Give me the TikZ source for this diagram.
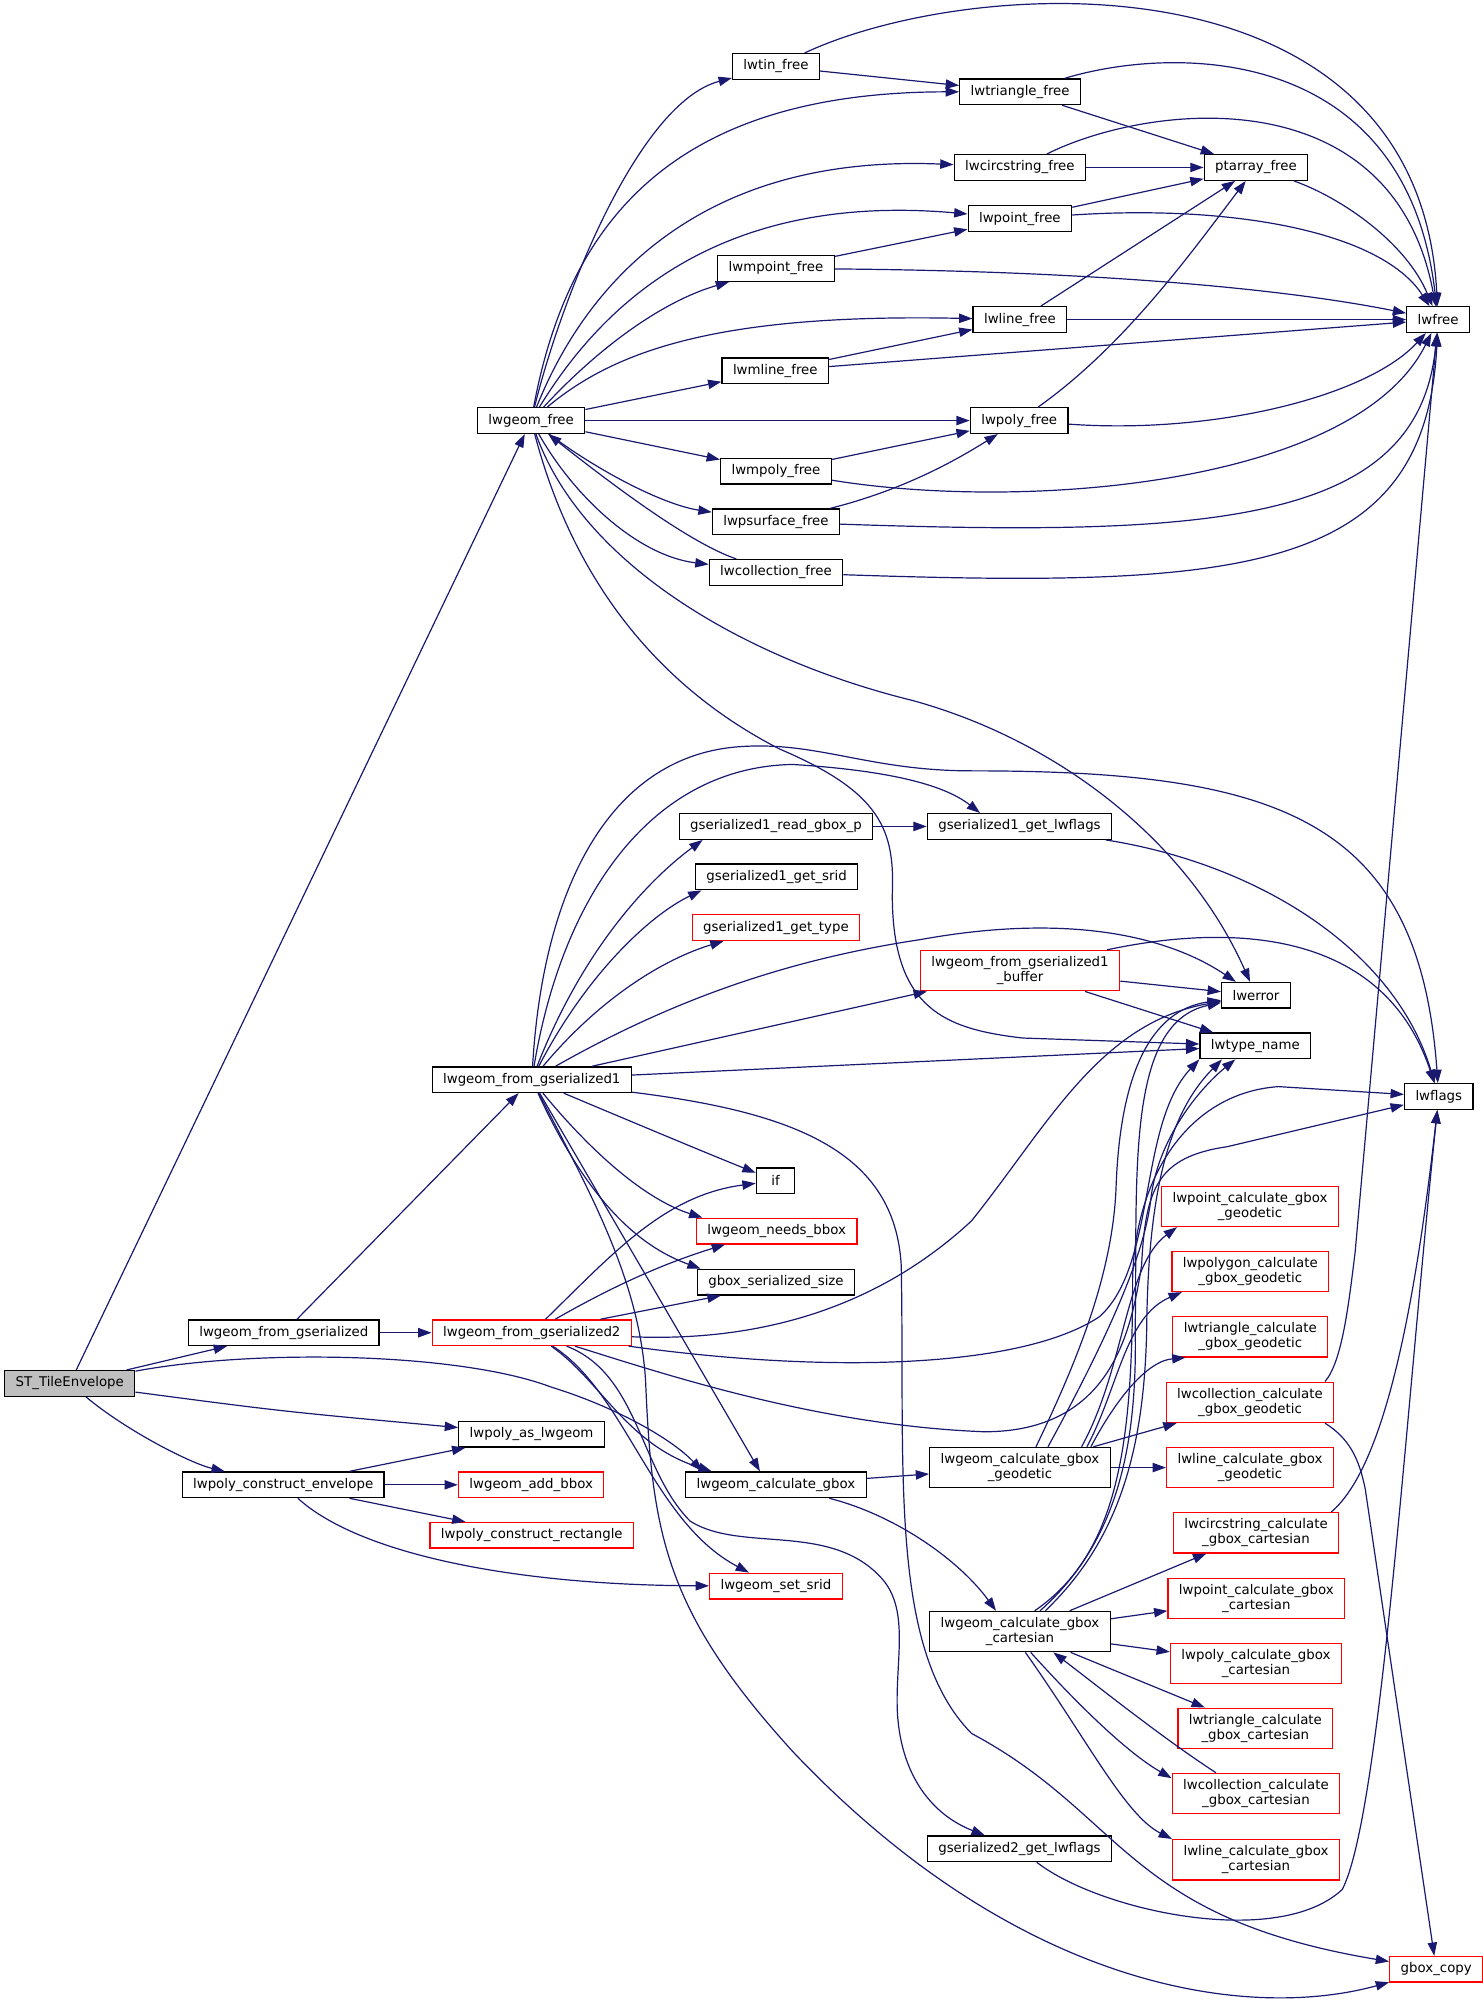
\documentclass[tikz,border=0pt]{standalone}
\usepackage{fontspec}
\setmainfont{DejaVu Sans}
\usetikzlibrary{arrows.meta}
\definecolor{edgeblue}{HTML}{191970}
\definecolor{rootgray}{HTML}{BFBFBF}
\begin{document}
\begin{tikzpicture}[x=0.9588pt,y=-0.9588pt,
    fn/.style={draw=black,line width=1pt,fill=white,font=\fontsize{10}{11}\selectfont,
      align=center,inner xsep=8.2pt,inner ysep=2pt,minimum height=19.2pt},
    hot/.style={fn,draw=red},
    two/.style={minimum height=30.2pt},
    root/.style={fn,fill=rootgray},
    call/.style={color=edgeblue,line width=0.9pt,-{Triangle[length=10pt,width=7pt]}}]
  \useasboundingbox (0,0) rectangle (1160,1565.3);
  \draw
    (54.6,1082.2) node[root] (st) {ST\_TileEnvelope}
    (222,1042.5) node[fn] (lfgs) {lwgeom\_from\_gserialized}
    (221.5,1161.5) node[fn] (lpce) {lwpoly\_construct\_envelope}
    (415.5,329) node[fn] (lgf) {lwgeom\_free}
    (416,844.6) node[fn] (gs1) {lwgeom\_from\_gserialized1}
    (416,1042.5) node[hot] (gs2) {lwgeom\_from\_gserialized2}
    (415.8,1122) node[fn] (lpal) {lwpoly\_as\_lwgeom}
    (415.5,1161.5) node[hot] (lgab) {lwgeom\_add\_bbox}
    (416,1201) node[hot] (lpcr) {lwpoly\_construct\_rectangle}
    (607,52) node[fn] (ltinf) {lwtin\_free}
    (607,210) node[fn] (lmptf) {lwmpoint\_free}
    (606.5,290) node[fn] (lmlf) {lwmline\_free}
    (607,368.5) node[fn] (lmpf) {lwmpoly\_free}
    (607,408.3) node[fn] (lpsf) {lwpsurface\_free}
    (607,447.8) node[fn] (lcf) {lwcollection\_free}
    (607,646.5) node[fn] (g1rgp) {gserialized1\_read\_gbox\_p}
    (607.5,686) node[fn] (g1gs) {gserialized1\_get\_srid}
    (607,725.6) node[hot] (g1gt) {gserialized1\_get\_type}
    (606.7,923.6) node[fn,minimum width=28.8pt] (ifn) {if}
    (607.5,963) node[hot] (lgnb) {lwgeom\_needs\_bbox}
    (607,1003) node[fn] (gss) {gbox\_serialized\_size}
    (607,1161.5) node[fn] (lgcg) {lwgeom\_calculate\_gbox}
    (607,1240.7) node[hot] (lgss) {lwgeom\_set\_srid}
    (798,71.8) node[fn] (ltrif) {lwtriangle\_free}
    (797.8,131) node[fn] (lcsf) {lwcircstring\_free}
    (797.8,171) node[fn] (lptf) {lwpoint\_free}
    (797.8,250) node[fn] (llf) {lwline\_free}
    (797.3,329) node[fn] (lpf) {lwpoly\_free}
    (797.5,646.5) node[fn] (g1glf) {gserialized1\_get\_lwflags}
    (797.9,759.3) node[hot,two] (buf) {lwgeom\_from\_gserialized1\\\_buffer}
    (797.9,1148) node[fn,two] (geod) {lwgeom\_calculate\_gbox\\\_geodetic}
    (797.9,1276.3) node[fn,two] (cart) {lwgeom\_calculate\_gbox\\\_cartesian}
    (797.5,1446.2) node[fn] (g2glf) {gserialized2\_get\_lwflags}
    (982.5,131) node[fn] (ptaf) {ptarray\_free}
    (982.5,778.6) node[fn] (lwerr) {lwerror}
    (982,818.2) node[fn] (ltn) {lwtype\_name}
    (977.8,943.7) node[hot,two] (pgeo) {lwpoint\_calculate\_gbox\\\_geodetic}
    (978,994.5) node[hot,two] (pgon) {lwpolygon\_calculate\\\_gbox\_geodetic}
    (978,1045.7) node[hot,two] (tgeo) {lwtriangle\_calculate\\\_gbox\_geodetic}
    (977.8,1097) node[hot,two] (cgeo) {lwcollection\_calculate\\\_gbox\_geodetic}
    (977.8,1148) node[hot,two] (lgeo) {lwline\_calculate\_gbox\\\_geodetic}
    (982.5,1199) node[hot,two] (ccart) {lwcircstring\_calculate\\\_gbox\_cartesian}
    (982.8,1250.3) node[hot,two] (pcart) {lwpoint\_calculate\_gbox\\\_cartesian}
    (982.5,1301.3) node[hot,two] (pycart) {lwpoly\_calculate\_gbox\\\_cartesian}
    (982,1352) node[hot,two] (tcart) {lwtriangle\_calculate\\\_gbox\_cartesian}
    (982.5,1403) node[hot,two] (ccoll) {lwcollection\_calculate\\\_gbox\_cartesian}
    (982.5,1454.8) node[hot,two] (lcart) {lwline\_calculate\_gbox\\\_cartesian}
    (1125,250) node[fn] (lwfree) {lwfree}
    (1125.5,857.8) node[fn] (lwflg) {lwflags}
    (1123.5,1540.5) node[hot] (gbcp) {gbox\_copy};
  \begin{scope}[call]
    \draw (st) -- (lgf);
    \draw (st) -- (lfgs);
    \draw (st) .. controls (200,1055) and (360,1058) .. (431,1085) .. controls (480,1100) and (525,1125) .. ([xshift=13]lgcg.north west);
    \draw (st) .. controls (220,1104) .. (lpal);
    \draw (st) .. controls (100,1120) and (150,1145) .. (lpce);
    \draw (lfgs) -- (gs1);
    \draw (lfgs) -- (gs2);
    \draw (lpce) -- (lpal);
    \draw (lpce) -- (lgab);
    \draw (lpce) -- (lpcr);
    \draw (lpce) .. controls (280,1215) and (400,1240) .. (lgss);
    \draw (lgf) .. controls (440,230) and (500,80) .. (ltinf);
    \draw (lgf) .. controls (445,170) and (530,72) .. (ltrif);
    \draw (lgf) .. controls (455,230) and (540,120) .. (lcsf);
    \draw (lgf) .. controls (470,240) and (560,150) .. (lptf);
    \draw (lgf) .. controls (470,270) and (520,235) .. (lmptf);
    \draw (lgf) .. controls (480,275) and (560,245) .. (llf);
    \draw (lgf) -- (lmlf);
    \draw (lgf) -- (lpf);
    \draw (lgf) -- (lmpf);
    \draw (lgf) .. controls (470,370) and (520,395) .. (lpsf);
    \draw (lgf) .. controls (450,390) and (500,435) .. (lcf);
    \draw (lcf) .. controls (540,425) and (480,380) .. (lgf);
    \draw (lgf) .. controls (455,440) and (580,515) .. (714,548) .. controls (830,580) and (930,660) .. (lwerr);
    \draw (lgf) .. controls (450,460) and (520,540) .. (610,586) .. controls (690,620) and (700,650) .. (698,700) .. controls (698,790) and (740,805) .. (800,812) -- (ltn);
    \draw (ltinf) -- (ltrif);
    \draw (ltinf) .. controls (760,-20) and (1110,-40) .. (lwfree);
    \draw (ltrif) .. controls (920,35) and (1100,35) .. (lwfree);
    \draw (ltrif) -- (ptaf);
    \draw (lcsf) -- (ptaf);
    \draw (lcsf) .. controls (900,80) and (1090,60) .. (lwfree);
    \draw (lptf) -- (ptaf);
    \draw (lptf) .. controls (960,160) and (1080,180) .. (lwfree);
    \draw (lmptf) -- (lptf);
    \draw (lmptf) .. controls (850,212) and (1000,225) .. (lwfree);
    \draw (llf) -- (ptaf);
    \draw (llf) -- (lwfree);
    \draw (lmlf) -- (llf);
    \draw (lmlf) -- (lwfree);
    \draw (lpf) .. controls (880,270) and (930,200) .. (ptaf);
    \draw (lpf) .. controls (950,340) and (1070,310) .. (lwfree);
    \draw (lmpf) -- (lpf);
    \draw (lmpf) .. controls (800,400) and (1060,380) .. (lwfree);
    \draw (lpsf) .. controls (700,385) and (740,365) .. (lpf);
    \draw (lpsf) .. controls (950,420) and (1110,410) .. (lwfree);
    \draw (lcf) .. controls (970,460) and (1115,450) .. (lwfree);
    \draw (ptaf) .. controls (1050,155) and (1100,190) .. (lwfree);
    \draw (gs1) .. controls (455,745) and (505,690) .. ([xshift=18]g1rgp.south west);
    \draw (gs1) .. controls (460,760) and (510,715) .. ([xshift=5]g1gs.south west);
    \draw (gs1) .. controls (470,780) and (520,750) .. ([xshift=24]g1gt.south west);
    \draw (gs1) .. controls (440,700) and (510,600) .. (620,598) .. controls (700,603) and (740,615) .. ([xshift=40]g1glf.north west);
    \draw (gs1) .. controls (425,690) and (480,590) .. (580,584) .. controls (640,580) and (680,603) .. (760,603) .. controls (1000,603) and (1110,640) .. (lwflg);
    \draw (gs1) -- (buf);
    \draw (gs1) .. controls (530,780) and (620,750) .. (720,735) .. controls (830,715) and (910,730) .. (lwerr);
    \draw (gs1) -- (ltn);
    \draw (gs1) .. controls (620,870) and (700,900) .. (705,990) .. controls (708,1150) and (695,1290) .. (760,1356) .. controls (880,1420) and (880,1500) .. (gbcp);
    \draw (gs1) .. controls (460,930) and (500,1000) .. (505,1080) .. controls (510,1200) and (520,1260) .. (620,1370) .. controls (800,1560) and (980,1580) .. (gbcp);
    \draw (gs1) .. controls (500,880) and (560,905) .. (ifn);
    \draw (gs1) .. controls (470,910) and (510,940) .. ([xshift=5]lgnb.north west);
    \draw (gs1) .. controls (460,940) and (500,975) .. ([xshift=3]gss.north west);
    \draw (gs1) -- ([xshift=-12]lgcg.north);
    \draw (gs2) .. controls (480,980) and (520,935) .. (ifn);
    \draw (gs2) .. controls (490,1000) and (530,985) .. ([xshift=22]lgnb.south west);
    \draw (gs2) -- ([xshift=18]gss.south west);
    \draw (gs2) .. controls (600,1050) and (690,1020) .. (760,955) .. controls (820,880) and (860,800) .. (lwerr);
    \draw (gs2) .. controls (650,1075) and (800,1070) .. (860,1030) .. controls (905,990) and (890,880) .. (ltn.south west);
    \draw (gs2) .. controls (520,1075) and (640,1115) .. (770,1120) .. controls (870,1120) and (885,1040) .. (893,990) .. controls (896,930) and (905,905) .. (960,897) -- (lwflg);
    \draw (gs2) .. controls (470,1080) and (490,1130) .. ([xshift=20]lgcg.north west);
    \draw (gs2) .. controls (490,1090) and (510,1190) .. ([xshift=30]lgss.north west);
    \draw (gs2) .. controls (500,1075) and (500,1150) .. (540,1190) .. controls (580,1215) and (650,1190) .. (690,1235) .. controls (712,1260) and (700,1300) .. (702,1340) .. controls (705,1390) and (730,1420) .. (g2glf);
    \draw (lgcg) -- (geod);
    \draw (lgcg) .. controls (700,1185) and (750,1220) .. ([xshift=-18]cart.north);
    \draw (geod) -- (lgeo);
    \draw (geod) -- (cgeo);
    \draw ([xshift=-15]geod.north east) .. controls (870,1100) and (895,1065) .. ([xshift=10]tgeo.south west);
    \draw ([xshift=-18]geod.north east) .. controls (875,1085) and (880,1030) .. ([xshift=8]pgon.south west);
    \draw ([xshift=-22]geod.north east) .. controls (880,1070) and (880,990) .. ([xshift=12]pgeo.south west);
    \draw ([xshift=12]geod.north) .. controls (840,1070) and (870,1000) .. (873,930) .. controls (876,840) and (900,790) .. (lwerr);
    \draw ([xshift=21]geod.north) .. controls (870,1040) and (895,980) .. (900,940) .. controls (905,890) and (940,850) .. ([xshift=27]ltn.south west);
    \draw (cart) -- (ccart);
    \draw (cart) -- (pcart);
    \draw (cart) -- (pycart);
    \draw (cart) -- (tcart);
    \draw ([xshift=8]cart.south) .. controls (840,1330) and (880,1370) .. ([yshift=11.5]ccoll.west);
    \draw ([xshift=4]cart.south) .. controls (850,1360) and (880,1420) .. (lcart.north west);
    \draw ([xshift=-30]ccoll.north) .. controls (910,1360) and (860,1320) .. ([xshift=25]cart.south);
    \draw ([xshift=15]cart.north) .. controls (870,1210) and (890,1140) .. (888,1040) .. controls (890,920) and (880,800) .. (lwerr);
    \draw ([xshift=19]cart.north) .. controls (875,1205) and (895,1135) .. (897,1040) .. controls (898,930) and (915,870) .. ([xshift=17]ltn.south west);
    \draw ([xshift=11]cart.north) .. controls (875,1215) and (886,1130) .. (886,1000) .. controls (888,920) and (930,855) .. (1000,850) -- (lwflg);
    \draw (buf) -- (lwerr);
    \draw (buf) -- (ltn);
    \draw ([xshift=-10]buf.north east) .. controls (950,725) and (1080,720) .. (lwflg);
    \draw (g1rgp) -- (g1glf);
    \draw (g1glf) .. controls (980,675) and (1090,740) .. (lwflg);
    \draw ([xshift=-6]ccart.north east) .. controls (1080,1150) and (1105,1040) .. (lwflg);
    \draw (g2glf) .. controls (860,1495) and (1000,1525) .. (1050,1478) .. controls (1080,1420) and (1100,1100) .. (lwflg);
    \draw ([xshift=-7]cgeo.north east) .. controls (1050,1065) and (1055,1020) .. (1060,980) -- (lwfree);
    \draw ([xshift=-7]cgeo.south east) .. controls (1055,1125) and (1063,1140) .. (1068,1165) -- (gbcp);
  \end{scope}
\end{tikzpicture}
\end{document}
